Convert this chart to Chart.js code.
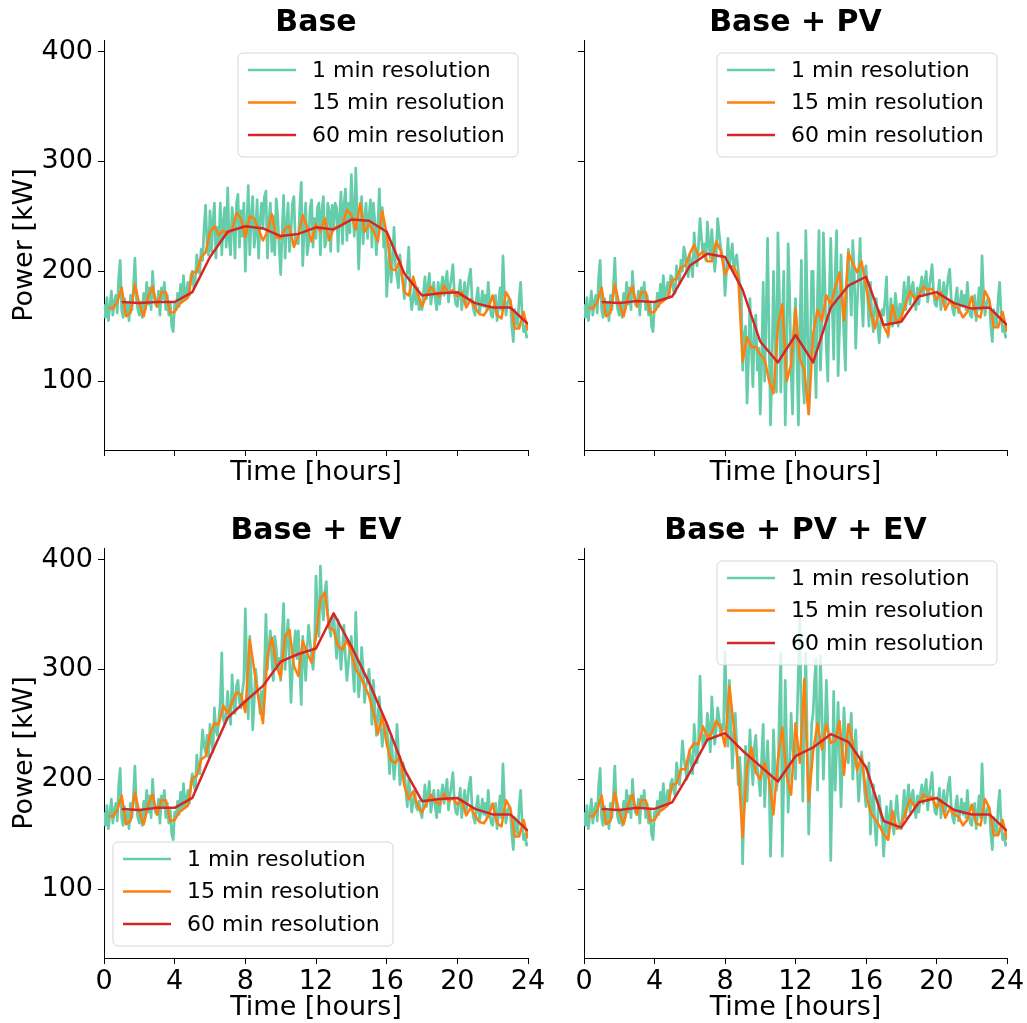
<!DOCTYPE html>
<html>
<head>
<meta charset="utf-8">
<script src="https://cdn.jsdelivr.net/npm/chart.js@4.4.1/dist/chart.umd.min.js"></script>
<style>
  html, body { margin: 0; padding: 0; background: #ffffff; }
  #wrap { position: relative; width: 1027px; height: 1023px; overflow: hidden; background: #fff; }
  #wrap canvas { position: absolute; left: 0; top: 0; }
</style>
</head>
<body>
<div id="wrap">
  <canvas id="c0" width="1027" height="1023"></canvas>
  <canvas id="c1" width="1027" height="1023"></canvas>
  <canvas id="c2" width="1027" height="1023"></canvas>
  <canvas id="c3" width="1027" height="1023"></canvas>
</div>
<script>
// ---------------- DATA ----------------
const TITLES = ["Base", "Base + PV", "Base + EV", "Base + PV + EV"];
const SERIES_LABELS = ["1 min resolution", "15 min resolution", "60 min resolution"];
const X_TICKS = [0, 4, 8, 12, 16, 20, 24];
const Y_TICKS = [100, 200, 300, 400];
const X_LABEL = "Time [hours]";
const Y_LABEL = "Power [kW]";

// 1-min profiles, read every 5 minutes from 0:00 to 24:00 (289 values, 12 per hour)
const base_1min = [
  170,158,176,155,168,182,160,172,178,162,195,210,
  165,158,175,160,170,155,178,165,185,212,175,165,
  160,172,158,180,165,190,170,185,165,200,178,170,
  168,182,160,185,175,190,165,178,160,172,150,145,
  170,165,180,168,188,172,196,175,182,190,178,196,
  200,185,192,215,205,198,220,210,240,260,225,215,
  255,218,245,262,212,240,225,262,215,245,258,222,
  276,228,215,258,245,212,262,270,222,255,232,262,
  200,240,278,215,250,268,222,235,265,212,245,262,
  240,268,273,212,245,262,218,250,215,266,250,222,
  197,235,269,212,240,262,218,235,262,268,225,230,
  225,258,281,205,240,262,215,225,258,265,222,248,
  230,258,262,215,255,268,222,228,262,255,218,260,
  240,262,258,218,250,272,225,260,275,228,262,235,
  288,255,232,294,250,202,240,268,225,248,262,230,
  250,265,222,262,245,215,240,275,240,258,222,235,
  177,200,225,190,210,240,205,195,185,215,200,190,
  175,195,200,222,180,165,175,190,170,185,165,170,
  165,180,195,175,185,198,170,180,190,175,165,190,
  170,185,195,178,190,200,172,185,195,206,180,170,
  168,180,192,165,178,190,170,182,195,202,175,165,
  160,175,185,162,170,182,168,178,165,190,170,160,
  158,170,178,155,168,185,165,214,180,160,170,175,
  172,150,136,165,155,150,175,190,160,145,150,140,
  142
];
const pv_1min = [
  170,158,176,155,168,182,160,172,178,162,195,210,
  165,158,175,160,170,155,178,165,185,212,175,165,
  160,172,158,180,165,190,170,185,165,200,178,170,
  168,182,160,185,175,190,165,178,160,172,150,145,
  170,165,180,168,188,172,196,175,182,190,178,196,
  195,182,180,205,195,190,210,200,222,215,200,195,
  215,205,195,235,215,205,225,248,230,215,225,210,
  245,225,212,238,220,200,215,248,235,222,215,210,
  178,200,230,205,215,225,200,210,215,200,190,185,
  110,140,150,80,120,175,130,95,150,160,110,130,
  70,120,190,100,160,230,140,60,110,200,150,90,
  235,180,90,150,200,60,120,225,180,110,70,150,
  175,120,60,150,210,100,80,237,170,70,120,200,
  200,130,85,180,237,110,150,235,190,130,100,180,
  230,170,120,200,237,105,150,215,175,140,110,190,
  220,190,160,228,200,130,170,200,230,175,150,200,
  205,180,150,190,160,145,170,175,150,135,155,165,
  160,175,195,140,160,175,150,155,180,165,150,170,
  155,170,190,165,180,195,170,185,190,175,165,185,
  170,185,195,178,190,200,172,185,195,206,180,170,
  168,180,192,165,178,190,170,182,195,202,175,165,
  160,175,185,162,170,182,168,178,165,190,170,160,
  158,170,178,155,168,185,165,214,180,160,170,175,
  172,150,136,165,155,150,175,190,160,145,150,140,
  142
];
const ev_1min = [
  170,158,176,155,168,182,160,172,178,162,195,210,
  165,158,175,160,170,155,178,165,185,212,175,165,
  160,172,158,180,165,190,170,185,165,200,178,170,
  168,182,160,185,175,190,165,178,160,172,150,145,
  170,165,180,168,188,172,196,175,182,190,178,196,
  205,195,190,222,210,205,225,245,230,225,240,220,
  250,235,225,265,245,240,255,270,315,255,250,260,
  280,260,250,295,270,260,285,290,270,265,280,290,
  355,300,255,330,290,245,270,300,285,275,260,280,
  260,300,350,300,320,335,310,290,330,320,300,310,
  290,330,360,300,325,345,310,270,300,320,335,310,
  335,300,268,330,310,290,320,340,325,310,300,320,
  385,350,330,394,360,345,370,380,350,340,330,345,
  350,330,310,345,320,300,320,340,310,290,305,320,
  330,300,280,352,310,275,290,320,300,270,285,290,
  300,280,250,290,265,240,255,275,250,230,245,250,
  250,230,205,240,220,200,215,250,225,195,205,215,
  210,190,175,200,185,170,180,190,175,172,180,170,
  165,180,195,175,185,198,170,180,190,175,165,190,
  170,185,195,178,190,200,172,185,195,206,180,170,
  168,180,192,165,178,190,170,182,195,202,175,165,
  160,175,185,162,170,182,168,178,165,190,170,160,
  158,170,178,155,168,185,165,214,180,160,170,175,
  172,150,136,165,155,150,175,190,160,145,150,140,
  142
];
const pvev_1min = [
  170,158,176,155,168,182,160,172,178,162,195,210,
  165,158,175,160,170,155,178,165,185,212,175,165,
  160,172,158,180,165,190,170,185,165,200,178,170,
  168,182,160,185,175,190,165,178,160,172,150,145,
  170,165,180,168,188,172,196,175,182,190,178,196,
  200,190,185,215,205,195,210,235,220,210,200,215,
  225,215,205,250,230,215,235,294,250,230,240,235,
  260,245,225,275,250,232,245,265,255,240,250,245,
  316,270,230,290,250,210,240,260,230,195,220,200,
  123,180,230,180,210,245,215,195,230,240,210,200,
  185,220,250,175,210,235,200,130,180,245,210,190,
  200,260,315,130,200,290,230,170,210,260,230,220,
  200,250,300,352,240,180,260,315,230,150,200,250,
  260,290,310,190,250,312,260,200,240,290,250,230,
  126,200,280,190,230,270,220,175,220,265,240,220,
  215,240,260,200,225,245,210,180,200,225,210,190,
  175,195,215,150,175,195,160,140,165,185,170,160,
  130,155,175,145,165,180,160,150,170,185,165,155,
  155,170,190,165,180,195,170,185,190,175,165,185,
  170,185,195,178,190,200,172,185,195,206,180,170,
  168,180,192,165,178,190,170,182,195,202,175,165,
  160,175,185,162,170,182,168,178,165,190,170,160,
  158,170,178,155,168,185,165,214,180,160,170,175,
  172,150,136,165,155,150,175,190,160,145,150,140,
  142
];

// 15-min means, 0:15 .. 24:00 (96 values)
const base_15min = [
  167,166,172,185, 159,162,188,170, 159,177,186,168, 181,181,162,163, 170,173,176,199, 199,213,217,236,
  241,233,237,234, 238,253,248,231, 250,248,238,228, 236,252,231,230, 239,241,222,233, 251,240,227,243,
  236,248,228,239, 241,242,256,251, 238,262,236,243, 237,227,255,234, 202,201,210,181, 178,195,180,168,
  178,186,180,177, 187,180,183,177, 181,167,174,167, 161,160,166,178, 160,157,181,174, 148,148,163,146
];
const pv_15min = [
  167,166,172,185, 159,162,188,170, 159,177,186,168, 181,181,162,163, 170,173,176,192, 193,204,205,216,
  224,214,218,209, 209,227,219,197, 205,204,195,118, 140,131,131,124, 120,100,89,150, 170,100,115,166,
  120,110,70,143, 165,155,178,170, 185,199,155,217, 207,199,209,186, 164,148,164,150, 142,169,153,158,
  170,182,175,178, 186,183,184,174, 181,165,173,168, 166,158,163,177, 160,158,182,174, 149,149,163,145
];
const ev_15min = [
  167,166,172,185, 159,162,188,170, 159,177,186,168, 181,181,162,163, 170,173,176,201, 203,218,221,241,
  251,250,267,260, 270,279,277,261, 327,300,273,251, 312,329,304,292, 330,336,303,294, 326,315,306,330,
  364,370,338,336, 321,318,327,315, 300,294,285,276, 261,241,258,232, 217,215,221,194, 182,189,176,170,
  178,186,180,177, 187,180,183,177, 181,167,174,167, 161,160,166,178, 160,157,181,174, 148,148,163,146
];
const pvev_15min = [
  167,166,172,185, 159,162,188,170, 159,177,186,168, 181,181,162,163, 170,173,176,195, 196,209,209,227,
  233,232,248,238, 242,253,247,230, 285,248,212,147, 212,229,206,200, 215,200,168,218, 247,203,186,251,
  215,291,180,225, 251,227,250,233, 235,253,204,250, 233,208,221,188, 170,164,158,150, 145,171,155,158,
  170,182,175,178, 186,183,184,174, 181,165,173,168, 166,158,163,177, 160,158,182,174, 149,149,163,145
];

// 60-min means, 1:00 .. 24:00 (24 values)
const base_60min = [172,171,172,172,181,213,236,241,239,232,234,240,238,247,246,236,198,178,180,181,171,167,167,152];
const pv_60min   = [172,171,173,172,177,205,216,213,183,136,117,142,117,167,187,195,151,154,177,181,171,166,167,151];
const ev_60min   = [173,172,174,174,183,220,256,271,285,307,314,319,351,321,288,251,209,180,182,183,173,168,168,153];
const pvev_60min = [173,172,174,173,179,206,236,242,226,212,198,221,229,241,234,211,162,156,179,183,172,168,168,153];

// ---------------- RENDERING ----------------
const FONT = "'DejaVu Sans', 'Liberation Sans', Arial, sans-serif";
const COLORS = ["#66cdaa", "#ff7f0e", "#d62728"];
Chart.defaults.color = "#000";
Chart.defaults.font.family = FONT;

function series(values, stepHours, startHours) {
  return values.map((v, i) => ({ x: startHours + i * stepHours, y: v }));
}

const legendBox = {
  id: "legendBox",
  afterDraw(chart, args, o) {
    if (!o || !o.corner) return;
    const ctx = chart.ctx, a = chart.chartArea;
    ctx.save();
    ctx.font = "22px " + FONT;
    const tw = Math.max(...chart.data.datasets.map(d => ctx.measureText(d.label).width));
    const w = Math.max(280, 74 + tw + 10), h = 104;
    let x, y;
    if (o.corner === "topright") { x = a.right - 10 - w; y = a.top + 13; }
    else { x = a.left + 9; y = a.bottom - 12 - h; }
    ctx.beginPath();
    const r = 5;
    ctx.moveTo(x + r, y);
    ctx.lineTo(x + w - r, y); ctx.arcTo(x + w, y, x + w, y + r, r);
    ctx.lineTo(x + w, y + h - r); ctx.arcTo(x + w, y + h, x + w - r, y + h, r);
    ctx.lineTo(x + r, y + h); ctx.arcTo(x, y + h, x, y + h - r, r);
    ctx.lineTo(x, y + r); ctx.arcTo(x, y, x + r, y, r);
    ctx.closePath();
    ctx.fillStyle = "rgba(255,255,255,0.8)";
    ctx.fill();
    ctx.strokeStyle = "rgba(204,204,204,0.8)";
    ctx.lineWidth = 1;
    ctx.stroke();
    ctx.textBaseline = "middle";
    ctx.textAlign = "left";
    chart.data.datasets.forEach((d, i) => {
      const cy = y + 17 + i * 32.5;
      ctx.strokeStyle = d.borderColor;
      ctx.lineWidth = 2.6;
      ctx.beginPath();
      ctx.moveTo(x + 10, cy); ctx.lineTo(x + 58, cy);
      ctx.stroke();
      ctx.fillStyle = "#000";
      ctx.fillText(d.label, x + 74, cy + 1);
    });
    ctx.restore();
  }
};

const PANELS = [
  { id: "c0", title: TITLES[0], m1: base_1min, m15: base_15min, m60: base_60min, left: 104, right: 528, top: 40,  bottom: 450, showX: false, showY: true,  corner: "topright" },
  { id: "c1", title: TITLES[1], m1: pv_1min,   m15: pv_15min,   m60: pv_60min,   left: 584, right: 1007, top: 40, bottom: 450, showX: false, showY: false, corner: "topright" },
  { id: "c2", title: TITLES[2], m1: ev_1min,   m15: ev_15min,   m60: ev_60min,   left: 104, right: 528, top: 548, bottom: 958, showX: true,  showY: true,  corner: "bottomleft" },
  { id: "c3", title: TITLES[3], m1: pvev_1min, m15: pvev_15min, m60: pvev_60min, left: 584, right: 1007, top: 548, bottom: 958, showX: true, showY: false, corner: "topright" }
];

const Y_W = 104;
PANELS.forEach(p => {
  const xH = p.showX ? 64 : 40;
  const xTitleBottom = p.showX ? -2.6 : 0.8;
  new Chart(document.getElementById(p.id), {
    type: "line",
    data: {
      datasets: [
        { label: SERIES_LABELS[0], data: series(p.m1, 1 / 12, 0), borderColor: COLORS[0], borderWidth: 2.7, order: 3 },
        { label: SERIES_LABELS[1], data: series(p.m15, 0.25, 0.25), borderColor: COLORS[1], borderWidth: 2.5, order: 2 },
        { label: SERIES_LABELS[2], data: series(p.m60, 1, 1), borderColor: COLORS[2], borderWidth: 2.5, order: 1 }
      ]
    },
    options: {
      responsive: false,
      animation: false,
      events: [],
      devicePixelRatio: 1,
      elements: { point: { radius: 0 }, line: { tension: 0, borderJoinStyle: "round", fill: false } },
      layout: { padding: { left: p.left - Y_W, right: 1027 - p.right, top: p.top - 40, bottom: 1023 - p.bottom - xH } },
      plugins: {
        legend: { display: false },
        tooltip: { enabled: false },
        title: { display: true, text: p.title, fullSize: false, color: "#000",
                 font: { family: FONT, size: 30, weight: "bold", lineHeight: 1.2 }, padding: { top: 5.4, bottom: -1.4 } },
        legendBox: { corner: p.corner }
      },
      scales: {
        x: {
          type: "linear", min: 0, max: 24,
          afterBuildTicks: s => { s.ticks = X_TICKS.map(v => ({ value: v })); },
          afterFit: s => { s.height = xH; s.paddingLeft = 0; s.paddingRight = 0; },
          ticks: { display: p.showX, font: { size: 27 }, color: "#000", padding: 2, maxRotation: 0, autoSkip: false },
          grid: { display: true, drawOnChartArea: false, drawTicks: true, tickLength: 6, tickColor: "#000", tickWidth: 1 },
          border: { display: true, color: "#000", width: 1 },
          title: { display: true, text: X_LABEL, color: "#000", font: { size: 27 }, padding: { top: 0, bottom: xTitleBottom } }
        },
        y: {
          type: "linear", min: 37.3, max: 410.5,
          afterBuildTicks: s => { s.ticks = Y_TICKS.map(v => ({ value: v })); },
          afterFit: s => { s.width = Y_W; s.paddingTop = 0; s.paddingBottom = 0; },
          ticks: { display: p.showY, font: { size: 27 }, color: "#000", padding: 5 },
          grid: { display: true, drawOnChartArea: false, drawTicks: true, tickLength: 6, tickColor: "#000", tickWidth: 1 },
          border: { display: true, color: "#000", width: 1 },
          title: { display: p.showY, text: Y_LABEL, color: "#000", font: { size: 27 }, padding: { top: 8.4, bottom: 0 } }
        }
      }
    },
    plugins: [legendBox]
  });
});
</script>
</body>
</html>
